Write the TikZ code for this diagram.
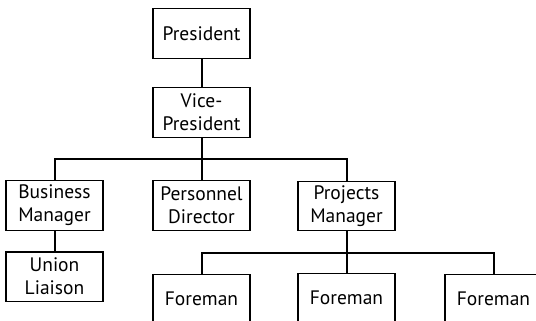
\documentclass[tikz,border=0pt]{standalone}
\usepackage{fontspec}
\setmainfont{PT Sans}
\usepackage{tikz}

\begin{document}
\begin{tikzpicture}[
		x=1pt, y=-1pt,
		OrgBox/.style={draw, line width=1.1pt, minimum width=97pt, minimum height=49.5pt,
			inner sep=0pt, outer sep=0pt, align=center,
			font=\fontsize{19.5}{23}\selectfont},
		Link/.style={line width=2pt},
		]
		\useasboundingbox (0,0) rectangle (536,321);
		\clip (0,0) rectangle (536,321);
		
		\node [OrgBox] (pres) at (201.5,33.7) {President};
		\node [OrgBox] (vp)   at (201.5,112.5) {Vice-\\President};
		\node [OrgBox] (bm)   at (54.5,205.5) {Business\\Manager};
		\node [OrgBox] (pd)   at (201.5,205.5) {Personnel\\Director};
		\node [OrgBox] (pm)   at (346.5,206) {Projects\\Manager};
		\node [OrgBox] (ul)   at (54.5,276.7) {Union\\Liaison};
		\node [OrgBox] (fa)   at (201.5,299) {Foreman};
		\node [OrgBox] (fb)   at (346.5,298) {Foreman};
		\node [OrgBox] (fc)   at (493.5,299) {Foreman};
		
		\coordinate (vbar) at (0,159);
		\coordinate (fbar) at (0,252.5);
		
		\draw [Link] (pres.south) -- (vp.north);
		\draw [Link] (vp.south) -- (pd.north);
		\draw [Link] (bm.north) |- (vbar -| pm.north) -- (pm.north);
		\draw [Link] (bm.south) -- (ul.north);
		\draw [Link] (pm.south) -- (fb.north);
		\draw [Link] (fa.north) |- (fbar -| fc.north) -- (fc.north);
		
		\end{tikzpicture}
\end{document}
